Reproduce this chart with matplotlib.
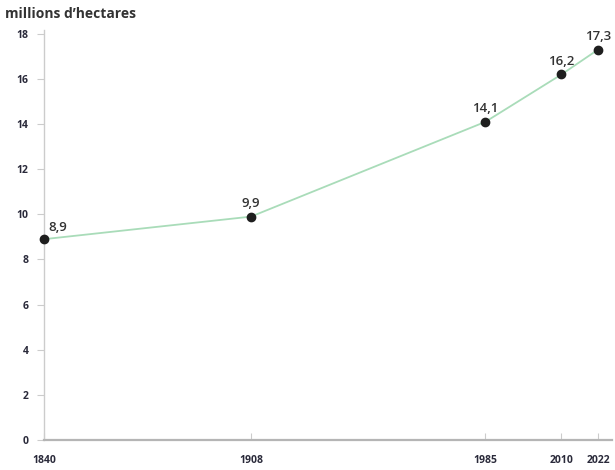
import matplotlib
matplotlib.use("Agg")
import matplotlib.pyplot as plt

years = [1840, 1908, 1985, 2010, 2022]
surface = [8.9, 9.9, 14.1, 16.2, 17.3]
labels = ["8,9", "9,9", "14,1", "16,2", "17,3"]
yticks = [0, 2, 4, 6, 8, 10, 12, 14, 16, 18]
unit = "millions d\u2019hectares"

plt.rcParams["font.family"] = ["Open Sans", "DejaVu Sans"]

fig = plt.figure(figsize=(6.15, 4.7), dpi=100)
ax = fig.add_axes([44 / 615, 30 / 470, (612 - 44) / 615, 410 / 470])

ax.plot(years, surface, color="#a9dcb9", lw=1.3, zorder=2, clip_on=False)
ax.scatter(years, surface, s=36, color="#1e1e1e", zorder=3, clip_on=False)

for i, (x, y, t) in enumerate(zip(years, surface, labels)):
    dx, dy = (10, 4) if i == 0 else (0, 5)
    ax.annotate(t, (x, y), xytext=(dx, dy), textcoords="offset points",
                ha="center", va="bottom", fontsize=9.5, color="#333333",
                fontweight="semibold")

ax.set_xlim(1840, 2026.6)
ax.set_ylim(0, 18.17)
ax.set_xticks(years)
ax.set_xticklabels([str(y) for y in years])
ax.set_yticks(yticks)

for s in ["top", "right"]:
    ax.spines[s].set_visible(False)
ax.spines["left"].set_color("#cccccc")
ax.spines["left"].set_linewidth(1.0)
ax.spines["bottom"].set_color("#b5b5b5")
ax.spines["bottom"].set_linewidth(1.6)

ax.tick_params(axis="y", length=5, width=0.8, color="#cccccc", pad=6,
               labelsize=7.5, labelcolor="#2a2a3a")
ax.tick_params(axis="x", direction="in", length=5, width=0.8, color="#cccccc",
               pad=11, labelsize=7.5, labelcolor="#2a2a3a")
for lab in ax.get_xticklabels() + ax.get_yticklabels():
    lab.set_fontweight("bold")

fig.text(5 / 615, 1 - 14 / 470, unit, ha="left", va="center",
         fontsize=10, fontweight="bold", color="#333333")

fig.savefig("out.png", dpi=100)
